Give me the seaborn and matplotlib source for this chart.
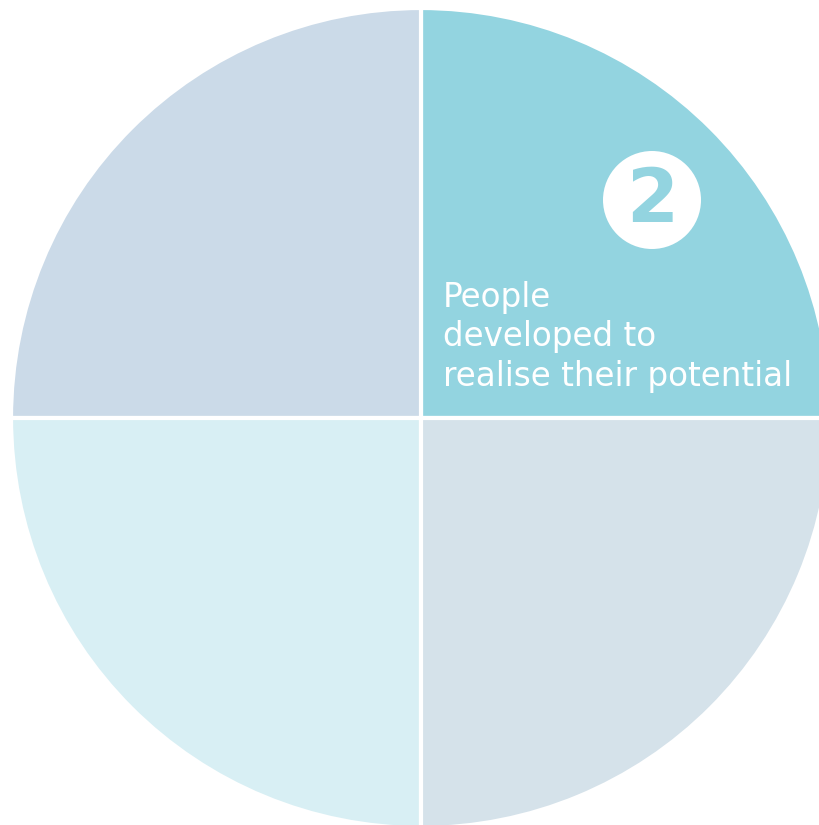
import matplotlib
matplotlib.use("Agg")
import matplotlib.pyplot as plt
import seaborn as sns
from matplotlib.patches import Circle

sns.set_style("white")
plt.rcParams['font.family'] = ['DejaVu Sans']

# Data
segments = ["People developed", "Segment 1", "Segment 3", "Segment 4"]
values = [1, 1, 1, 1]
colors = ["#93d4e0", "#cbdae8", "#d8eff4", "#d5e2ea"]
label_text = "People\ndeveloped to\nrealise their potential"
badge_number = "2"

W, H = 820, 825
cx, cy = 421, 418
R = 410

fig = plt.figure(figsize=(W / 100, H / 100), dpi=100)
ax = fig.add_axes([0, 0, 1, 1])
palette = sns.color_palette(colors)
ax.pie(values, colors=palette, startangle=0, counterclock=True, radius=R,
       center=(0, 0), wedgeprops=dict(edgecolor="white", linewidth=3.0),
       frame=False)
ax.set_xlim(-cx, W - cx)
ax.set_ylim(-(H - cy), cy)
ax.set_aspect("equal")
ax.axis("off")

# Badge
bx, by = 652 - cx, cy - 200
ax.add_patch(Circle((bx, by), 49, facecolor="white", edgecolor="none", zorder=5))
ax.text(bx, by - 2, badge_number, ha="center", va="center", fontsize=54,
        fontweight="heavy", color=colors[0], zorder=6)

# Label
ax.text(443 - cx, cy - 281, label_text, ha="left", va="top", fontsize=23.5,
        color="white", linespacing=1.245, zorder=6)

fig.savefig("out.png", dpi=100)
